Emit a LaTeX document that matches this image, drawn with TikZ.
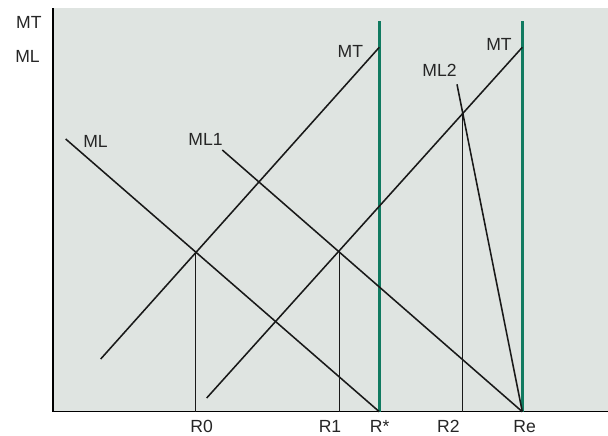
\documentclass[tikz,border=0pt]{standalone}
\usepackage{fontspec}
\setmainfont{Liberation Sans}
\usepackage{tikz}
\usetikzlibrary{positioning}
\definecolor{panelgray}{RGB}{223,228,225}
\definecolor{tealline}{RGB}{16,122,96}

\begin{document}
\begin{tikzpicture}[x=0.025cm, y=-0.025cm,
	curve/.style={line width=1.1pt, black!90},
	limit/.style={line width=1.8pt, tealline},
	lbl/.style={inner sep=0pt, text=black!85, font=\fontsize{12.5}{14}\selectfont}
]
	\useasboundingbox (0,0) rectangle (608,436);

	% Panel and axes
	\fill[panelgray] (53,8) rectangle (608,411.7);
	\coordinate (top) at (53,8);
	\coordinate (orig) at (53,411.7);
	\coordinate (xend) at (608,411.7);
	\draw[line width=0.9pt] (top) -- (orig) -- (xend);

	% Axis labels
	\node[lbl] (ymt) at (28.8,22) {MT};
	\node[lbl] (yml) at (27.5,56.3) {ML};

	% Points on the horizontal axis
	\coordinate (r0) at (195.7,411.7);
	\coordinate (r1) at (339.3,411.7);
	\coordinate (rstar) at (379.3,411.7);
	\coordinate (r2) at (462.7,411.7);
	\coordinate (re) at (522.3,411.7);

	% Upper limits
	\coordinate (gtop1) at (379.3,21);
	\coordinate (gtop2) at (522.3,21);
	\draw[limit] (gtop1) -- (rstar);
	\draw[limit] (gtop2) -- (re);

	% MT curves
	\coordinate (mta) at (100.7,359);
	\coordinate (mtb) at (379.3,47.3);
	\coordinate (mtc) at (206.7,398);
	\coordinate (mtd) at (522.3,47.3);
	\draw[curve] (mta) -- (mtb);
	\draw[curve] (mtc) -- (mtd);

	% ML curves
	\coordinate (mla) at (65.7,139);
	\coordinate (mlb) at (222.3,150);
	\coordinate (mlc) at (457,84.3);
	\draw[curve] (mla) -- (rstar);
	\draw[curve] (mlb) -- (re);
	\draw[curve] (mlc) -- (re);

	% Equilibria
	\coordinate (e0) at (195.7,251.7);
	\coordinate (e1) at (339.3,251);
	\coordinate (e2) at (462.7,112.7);
	\draw[curve] (e0) -- (r0);
	\draw[curve] (e1) -- (r1);
	\draw[curve] (e2) -- (r2);

	% Curve labels
	\node[lbl] (lmt1) at (350.3,51.7) {MT};
	\node[lbl] (lmt2) at (499,44.7) {MT};
	\node[lbl] (lml2) at (439.5,70.3) {ML2};
	\node[lbl] (lml) at (95.5,141.8) {ML};
	\node[lbl] (lml1) at (205.5,139.2) {ML1};

	% Tick labels
	\node[lbl] (tr0) at (201.7,426.3) {R0};
	\node[lbl] (tr1) at (330,426.3) {R1};
	\node[lbl] (trs) at (379.7,426.3) {R*};
	\node[lbl] (tr2) at (448.3,426.3) {R2};
	\node[lbl] (tre) at (524.7,426.3) {Re};
\end{tikzpicture}
\end{document}
